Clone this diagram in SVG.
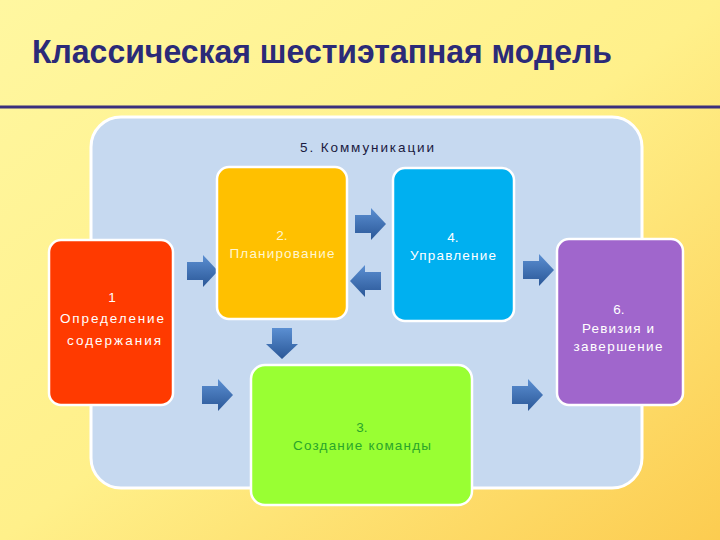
<svg xmlns="http://www.w3.org/2000/svg" width="720" height="540" viewBox="0 0 720 540">
<defs>
<linearGradient id="bg" x1="0" y1="0" x2="1" y2="1">
<stop offset="0" stop-color="#fff7a0"/>
<stop offset="0.5" stop-color="#fff08a"/>
<stop offset="1" stop-color="#fccc50"/>
</linearGradient>
<linearGradient id="arr" x1="0" y1="0" x2="0" y2="1">
<stop offset="0" stop-color="#5b8fd2"/>
<stop offset="1" stop-color="#2a5797"/>
</linearGradient>
<path id="ar" d="M0,7 H16 V0 L31,16 L16,32 V25 H0 Z"/>
<path id="al" d="M31,7 H15 V0 L0,16 L15,32 V25 H31 Z"/>
<path id="ad" d="M6,0 H26 V16 H32 L16,31 L0,16 H6 Z"/>
</defs>
<style>
.box{stroke:#fff;stroke-width:2.5}
.t{font-family:"Liberation Sans",Arial,sans-serif;font-size:13.5px;text-anchor:middle;fill:#fff}
.arrow{fill:url(#arr)}
</style>
<rect x="0" y="0" width="720" height="540" fill="url(#bg)"/>
<text x="32" y="63" font-family="Liberation Sans, Arial, sans-serif" font-size="33" font-weight="bold" fill="#2b2a78" textLength="580" lengthAdjust="spacingAndGlyphs">Классическая шестиэтапная модель</text>
<rect x="0" y="105.5" width="720" height="3" fill="#3b2f7c"/>
<g id="panel">
<rect x="91" y="117" width="551" height="371" rx="30" fill="#c6d9f0" stroke="#fff" stroke-width="3"/>
<text class="t" x="367" y="152" style="fill:#1a1a40" textLength="134">5. Коммуникации</text>
</g>
<g id="connectors">
<use href="#ar" class="arrow" x="187" y="255"/>
<use href="#ar" class="arrow" x="202" y="379"/>
<use href="#ad" class="arrow" x="266" y="328"/>
<use href="#ar" class="arrow" x="355" y="208"/>
<use href="#al" class="arrow" x="350" y="265"/>
<use href="#ar" class="arrow" x="523" y="254"/>
<use href="#ar" class="arrow" x="512" y="379"/>
</g>
<g id="node1">
<rect class="box" x="49" y="240" width="124" height="165" rx="12" fill="#ff3a00"/>
<text class="t" x="112" y="302">1</text>
<text class="t" x="112" y="323" textLength="104">Определение</text>
<text class="t" x="114" y="345" textLength="94">содержания</text>
</g>
<g id="node2">
<rect class="box" x="217" y="167" width="130" height="152" rx="12" fill="#ffc000"/>
<text class="t" x="282" y="240" style="fill:#fff6d0">2.</text>
<text class="t" x="282" y="258" style="fill:#fff6d0" textLength="105">Планирование</text>
</g>
<g id="node4">
<rect class="box" x="393" y="168" width="121" height="153" rx="12" fill="#00b0f0"/>
<text class="t" x="453" y="242">4.</text>
<text class="t" x="453" y="260" textLength="86">Управление</text>
</g>
<g id="node6">
<rect class="box" x="557" y="239" width="126" height="166" rx="12" fill="#a066cc"/>
<text class="t" x="619" y="314">6.</text>
<text class="t" x="618" y="333" textLength="72">Ревизия и</text>
<text class="t" x="618" y="351" textLength="89">завершение</text>
</g>
<g id="node3">
<rect class="box" x="251" y="365" width="221" height="140" rx="14" fill="#99ff33"/>
<text class="t" x="362" y="432" style="fill:#2aa52a">3.</text>
<text class="t" x="362" y="450" style="fill:#2aa52a" textLength="138">Создание команды</text>
</g>
</svg>
